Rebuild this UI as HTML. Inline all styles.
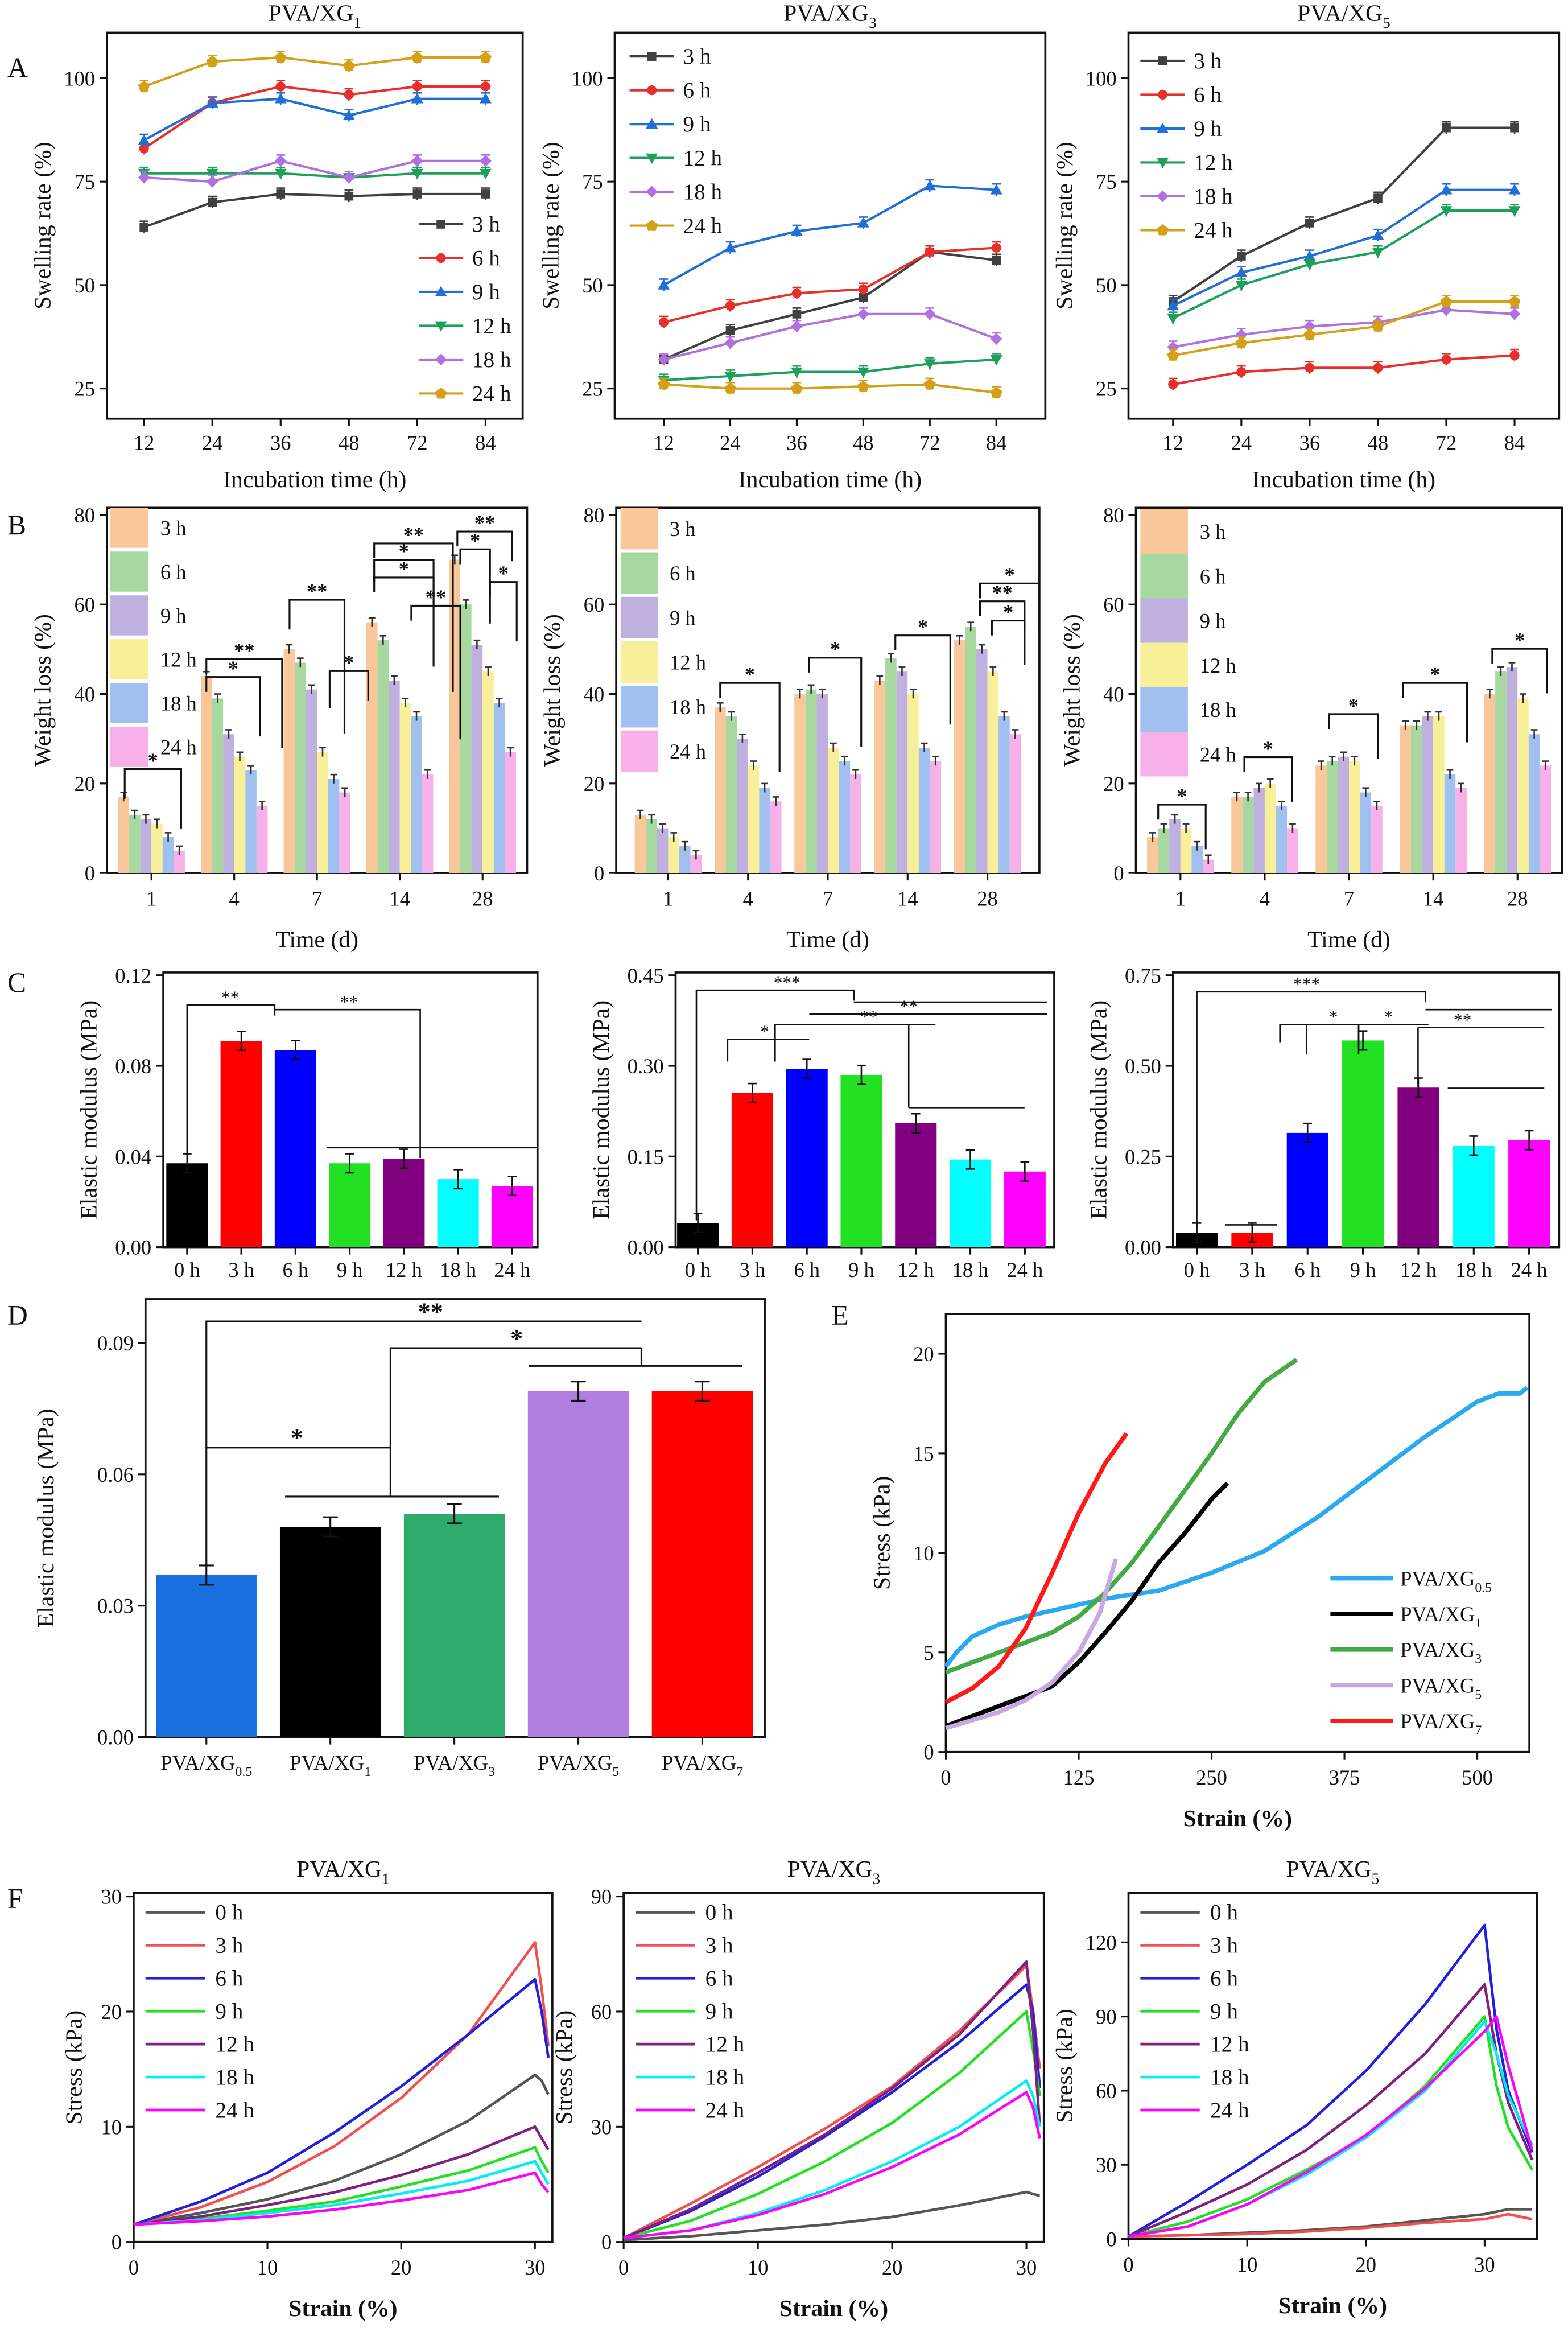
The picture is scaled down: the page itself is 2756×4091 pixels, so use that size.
<!DOCTYPE html>
<html><head><meta charset="utf-8">
<style>
html,body{margin:0;padding:0;background:#fff;}
svg{display:block;font-family:"Liberation Serif","DejaVu Serif",serif;}
</style></head>
<body>
<svg id="fig" xmlns="http://www.w3.org/2000/svg" width="2756" height="4091" viewBox="0 0 1056 1568" preserveAspectRatio="none"></svg>
<script>
// ---------- Panel A data (swelling rate) ----------
const aCats = ['12','24','36','48','72','84'];
const aSeriesNames = ['3 h','6 h','9 h','12 h','18 h','24 h'];
const a1_3h=[64,70,72,71.5,72,72], a1_6h=[83,94,98,96,98,98], a1_9h=[85,94,95,91,95,95], a1_12h=[77,77,77,76,77,77], a1_18h=[76,75,80,76,80,80], a1_24h=[98,104,105,103,105,105];
const a2_3h=[32,39,43,47,58,56], a2_6h=[41,45,48,49,58,59], a2_9h=[50,59,63,65,74,73], a2_12h=[27,28,29,29,31,32], a2_18h=[32,36,40,43,43,37], a2_24h=[26,25,25,25.5,26,24];
const a3_3h=[46,57,65,71,88,88], a3_6h=[26,29,30,30,32,33], a3_9h=[45,53,57,62,73,73], a3_12h=[42,50,55,58,68,68], a3_18h=[35,38,40,41,44,43], a3_24h=[33,36,38,40,46,46];
const aYTicks=[25,50,75,100];
// ---------- Panel B data (weight loss) ----------
const bCats=['1','4','7','14','28'];
const b1_3h=[17,44,50,56,70], b1_6h=[13,39,47,52,60], b1_9h=[12,31,41,43,51], b1_12h=[11,26,27,38,45], b1_18h=[8,23,21,35,38], b1_24h=[5,15,18,22,27];
const b2_3h=[13,37,40,43,52], b2_6h=[12,35,41,48,55], b2_9h=[10,30,40,45,50], b2_12h=[8,24,28,40,45], b2_18h=[6,19,25,28,35], b2_24h=[4,16,22,25,31];
const b3_3h=[8,17,24,33,40], b3_6h=[10,17,25,33,45], b3_9h=[12,19,26,35,46], b3_12h=[10,20,25,35,39], b3_18h=[6,15,18,22,31], b3_24h=[3,10,15,19,24];
const bYTicks=[0,20,40,60,80];
// ---------- Panel C data (elastic modulus) ----------
const cCats=['0 h','3 h','6 h','9 h','12 h','18 h','24 h'];
const c1Vals=[0.037,0.091,0.087,0.037,0.039,0.030,0.027];
const c2Vals=[0.040,0.255,0.295,0.285,0.205,0.145,0.125];
const c3Vals=[0.040,0.040,0.315,0.570,0.440,0.280,0.295];
const c1Ticks=[0,0.04,0.08,0.12], c2Ticks=[0,0.15,0.30,0.45], c3Ticks=[0,0.25,0.50,0.75];
// ---------- Panel D ----------
const dCats=[['PVA/XG','0.5'],['PVA/XG','1'],['PVA/XG','3'],['PVA/XG','5'],['PVA/XG','7']];
const dVals=[0.037,0.048,0.051,0.079,0.079];
const dTicks=[0,0.03,0.06,0.09];
// ---------- Panel E (strain, stress) ----------
const eXTicks=[0,125,250,375,500], eYTicks=[0,5,10,15,20];
const eXG05=[[0,4.3],[10,5],[25,5.8],[50,6.4],[75,6.8],[100,7.1],[150,7.7],[200,8.1],[250,9],[300,10.1],[350,11.8],[400,13.8],[450,15.8],[500,17.6],[520,18],[540,18],[547,18.3]];
const eXG1=[[0,1.3],[25,1.8],[50,2.3],[75,2.8],[100,3.3],[125,4.5],[150,6],[175,7.6],[200,9.5],[225,11],[250,12.7],[265,13.5]];
const eXG3=[[0,4],[50,5],[100,6],[125,6.8],[150,8],[175,9.5],[200,11.3],[250,15],[275,17],[300,18.6],[330,19.7]];
const eXG5=[[0,1.2],[50,2],[75,2.6],[100,3.5],[125,5],[145,7],[160,9.7]];
const eXG7=[[0,2.5],[25,3.2],[50,4.3],[75,6.2],[100,9],[125,12],[150,14.5],[170,16]];
// ---------- Panel F ----------
const fNames=['0 h','3 h','6 h','9 h','12 h','18 h','24 h'];
const f1Strain=[0,5,10,15,20,25,30,30.5,31];
const f1_0h=[1.5,2.5,3.7,5.3,7.6,10.5,14.5,14,12.8], f1_3h=[1.5,3,5.2,8.3,12.5,18,26,22,17], f1_6h=[1.5,3.5,6,9.5,13.5,18,22.8,20,16], f1_9h=[1.5,2,2.7,3.5,4.8,6.2,8.2,7,6], f1_12h=[1.5,2.2,3.2,4.3,5.8,7.6,10,9,8], f1_18h=[1.5,1.9,2.5,3.2,4.2,5.3,7,6,5], f1_24h=[1.5,1.8,2.2,2.8,3.6,4.5,6,5,4.3];
const f2Strain=[0,5,10,15,20,25,30,30.5,31];
const f2_0h=[0.5,1.5,3,4.5,6.5,9.5,13,12.5,12], f2_3h=[1,10,19.5,29.5,40.5,55,72,60,45], f2_6h=[1,8,17,27.5,39,52,67,60,40], f2_9h=[1,5.5,12.5,21,31,44,60,50,38], f2_12h=[1,8.5,18,28,40,54,73,55,30], f2_18h=[1,3,7.5,13.5,21,30,42,38,30], f2_24h=[1,3,7,12.5,19.5,28,39,35,27];
const f3Strain=[0,5,10,15,20,25,30,31,32,34];
const f3_0h=[1,1.5,2.5,3.5,5,7.5,10,11,12,12], f3_3h=[1,1.5,2,3,4.5,6.5,8,9,10,8], f3_6h=[1,15,30,46,68,95,127,85,60,35], f3_9h=[1,7,16,28,41,62,90,62,45,28], f3_12h=[1,11,22,36,54,75,103,75,55,32], f3_18h=[1,5,14,26,41,60,88,75,58,38], f3_24h=[1,5,14,27,42,61,84,90,70,36];

const svg=document.getElementById('fig');
const NS='http://www.w3.org/2000/svg';
function el(tag,attrs,parent){const e=document.createElementNS(NS,tag);for(const k in attrs)e.setAttribute(k,attrs[k]);(parent||svg).appendChild(e);return e;}
function txt(x,y,s,size,anchor,parent,extra){const t=el('text',Object.assign({x:x,y:y,'font-size':size,'text-anchor':anchor||'middle',fill:'#111'},extra||{}),parent);t.textContent=s;return t;}
function subTxt(x,y,base,sub,size,anchor,parent){const t=el('text',{x:x,y:y,'font-size':size,'text-anchor':anchor||'middle',fill:'#111'},parent);const a=el('tspan',{},t);a.textContent=base;const b=el('tspan',{'font-size':size*0.65,dy:size*0.3},t);b.textContent=sub;return t;}

function axes(g,box,yMin,yMax,yTicks,yFmt,yTitle,yTitleX){
  const r=el('rect',{x:box.x,y:box.y,width:box.w,height:box.h,fill:'none',stroke:'#111','stroke-width':1.4},g);
  
  
  const Y=v=>box.y+box.h-(v-yMin)/(yMax-yMin)*box.h;
  yTicks.forEach(v=>{const y=Y(v);el('line',{x1:box.x-5,x2:box.x,y1:y,y2:y,stroke:'#111','stroke-width':1.2},g);
    const t=txt(box.x-8,y+5,yFmt(v),14,'end',g);});
  const tt=el('text',{x:0,y:0,'font-size':16,'text-anchor':'middle',fill:'#111',transform:`translate(${yTitleX},${box.y+box.h/2}) rotate(-90)`},g);
  tt.textContent=yTitle;
  
  
  return Y;
}

// ---------- markers ----------
function marker(g,type,x,y,c){
  let m;
  if(type==0) m=el('rect',{x:x-3,y:y-3,width:6,height:6,fill:c},g);
  else if(type==1) m=el('circle',{cx:x,cy:y,r:3.3,fill:c},g);
  else if(type==2) m=el('polygon',{points:`${x},${y-4} ${x-4},${y+3} ${x+4},${y+3}`,fill:c},g);
  else if(type==3) m=el('polygon',{points:`${x},${y+4} ${x-4},${y-3} ${x+4},${y-3}`,fill:c},g);
  else if(type==4) m=el('polygon',{points:`${x},${y-4} ${x+4},${y} ${x},${y+4} ${x-4},${y}`,fill:c},g);
  else m=el('polygon',{points:`${x},${y-4} ${x+4},${y-1} ${x+2.5},${y+3.5} ${x-2.5},${y+3.5} ${x-4},${y-1}`,fill:c},g);
  return m;
}
const aColors=['#404040','#e8302a','#1f6fd6','#1ea05a','#b070e0','#d4a017'];

function panelA(idx,box,series,legendPos,title){
  const g=el('g',{});
  
  
  const Y=axes(g,box,17.7,111,aYTicks,v=>String(v),'Swelling rate (%)',box.x-38);
  const pad=box.pad, step=(box.w-2*pad)/(aCats.length-1);
  const X=i=>box.x+pad+i*step;
  aCats.forEach((c,i)=>{el('line',{x1:X(i),x2:X(i),y1:box.y+box.h,y2:box.y+box.h+5,stroke:'#111','stroke-width':1.2},g);
    const t=txt(X(i),box.y+box.h+21,c,14,'middle',g);});
  const xt=txt(box.x+box.w/2,box.y+box.h+46,'Incubation time (h)',16,'middle',g);
  
  const tt=subTxt(box.x+box.w/2,box.y-8,'PVA/XG',title,16,'middle',g);
  
  series.forEach((vals,s)=>{
    const c=aColors[s];
    const pts=vals.map((v,i)=>X(i)+','+Y(v)).join(' ');
    const pl=el('polyline',{points:pts,fill:'none',stroke:c,'stroke-width':1.6},g);
    
    
    vals.forEach((v,i)=>{
      el('line',{x1:X(i),x2:X(i),y1:Y(v)-4,y2:Y(v)+4,stroke:c,'stroke-width':1},g);
      el('line',{x1:X(i)-3,x2:X(i)+3,y1:Y(v)-4,y2:Y(v)-4,stroke:c,'stroke-width':1},g);
      const m=marker(g,s,X(i),Y(v),c);
      
      
    });
    const ly=legendPos.y+s*22.8;
    const lg=el('g',{},g);
    
    
    el('line',{x1:legendPos.x,x2:legendPos.x+30,y1:ly,y2:ly,stroke:c,'stroke-width':1.6},lg);
    marker(lg,s,legendPos.x+15,ly,c);
    txt(legendPos.x+36,ly+5,aSeriesNames[s],15,'start',lg);
  });
}
panelA(1,{x:72,y:22,w:280,h:260,pad:25},[a1_3h,a1_6h,a1_9h,a1_12h,a1_18h,a1_24h],{x:282,y:151},'1');
panelA(2,{x:414,y:22,w:290,h:260,pad:33},[a2_3h,a2_6h,a2_9h,a2_12h,a2_18h,a2_24h],{x:424,y:38},'3');
panelA(3,{x:760,y:22,w:290,h:260,pad:30},[a3_3h,a3_6h,a3_9h,a3_12h,a3_18h,a3_24h],{x:768,y:41},'5');

// ---------- Panel B ----------
const bColors=['#f8c89a','#a6d8a0','#c0b0e0','#f8f098','#a0c0f0','#f8b0e8'];
function panelB(idx,box,series,legX,legY0,legStep,legW,legH,brackets){
  const g=el('g',{});
  
  
  const Y=axes(g,box,0,81.6,bYTicks,v=>String(v),'Weight loss (%)',box.x-38);
  const step=(box.w-2*box.pad)/(bCats.length-1);
  const X=i=>box.x+box.pad+i*step;
  const bw=7.5;
  bCats.forEach((c,i)=>{el('line',{x1:X(i),x2:X(i),y1:box.y+box.h,y2:box.y+box.h+5,stroke:'#111','stroke-width':1.2},g);
    const t=txt(X(i),box.y+box.h+22,c,14,'middle',g);});
  const xt=txt(box.x+box.w/2,box.y+box.h+50,'Time (d)',16,'middle',g);
  
  series.forEach((vals,s)=>{
    vals.forEach((v,i)=>{
      const x=X(i)-3*bw+s*bw;
      const r=el('rect',{x:x,y:Y(v),width:bw,height:Y(0)-Y(v),fill:bColors[s]},g);
      
      
      el('line',{x1:x+bw/2,x2:x+bw/2,y1:Y(v)-3,y2:Y(v)+3,stroke:'#333','stroke-width':1},g);
      el('line',{x1:x+1.5,x2:x+bw-1.5,y1:Y(v)-3,y2:Y(v)-3,stroke:'#333','stroke-width':1},g);
    });
    const lg=el('g',{},g);
    
    
    el('rect',{x:legX,y:legY0+s*legStep,width:legW,height:legH,fill:bColors[s]},lg);
    txt(legX+legW+8,legY0+s*legStep+legH/2+5,aSeriesNames[s],14,'start',lg);
  });
  brackets.forEach(b=>{
    const p=el('polyline',{points:`${b[0]},${b[2]+b[3]} ${b[0]},${b[2]} ${b[1]},${b[2]} ${b[1]},${b[2]+b[4]}`,fill:'none',stroke:'#111','stroke-width':1.2},g);
    
    const t=txt((b[0]+b[1])/2,b[2]-1,b[5],14,'middle',g,{'font-weight':'bold'});
    
  });
}
panelB(1,{x:72,y:342,w:283,h:246,pad:30},[b1_3h,b1_6h,b1_9h,b1_12h,b1_18h,b1_24h],74,342,29.5,26,27,
 [[84,122,518,20,40,'*'],[139,175,456,10,40,'*'],[139,190,444,10,60,'**'],[195,232,404,20,90,'**'],[222,248,452,25,20,'*'],[252,292,377,15,30,'*'],[252,292,389,10,60,'*'],[252,305,366,10,100,'**'],[277,310,408,10,90,'**'],[308,345,358,10,20,'**'],[310,330,370,10,50,'*'],[330,348,392,10,40,'*']]);
panelB(2,{x:415,y:342,w:285,h:246,pad:35},[b2_3h,b2_6h,b2_9h,b2_12h,b2_18h,b2_24h],418,342,30,25,28,
 [[485,525,460,10,60,'*'],[545,580,443,10,60,'*'],[603,640,428,10,60,'*'],[660,700,393,10,30,'*'],[660,690,405,10,20,'**'],[668,690,418,10,30,'*']]);
panelB(3,{x:765,y:342,w:287,h:246,pad:30},[b3_3h,b3_6h,b3_9h,b3_12h,b3_18h,b3_24h],768,343,30,32,30,
 [[780,812,542,10,30,'*'],[838,870,510,10,30,'*'],[895,928,481,10,30,'*'],[945,988,460,10,40,'*'],[1005,1042,437,10,30,'*']]);

// ---------- Panel C ----------
const cColors=['#000000','#ff0000','#0000ff','#22e022','#800080','#00ffff','#ff00ff'];
function panelC(idx,box,vals,ticks,fmt,brackets){
  const g=el('g',{});
  
  
  const yMax=ticks[ticks.length-1]*1.0;
  const Y=axes(g,box,0,yMax*1.01,ticks,fmt,'Elastic modulus (MPa)',box.x-45);
  const X=i=>box.x+box.pad+i*box.step;
  vals.forEach((v,i)=>{
    const r=el('rect',{x:X(i)-14,y:Y(v),width:28,height:Y(0)-Y(v),fill:cColors[i]},g);
    
    
    const e=yMax*0.035;
    el('line',{x1:X(i),x2:X(i),y1:Y(v+e),y2:Y(v-e),stroke:'#111','stroke-width':1},g);
    el('line',{x1:X(i)-3,x2:X(i)+3,y1:Y(v+e),y2:Y(v+e),stroke:'#111','stroke-width':1},g);
    el('line',{x1:X(i)-3,x2:X(i)+3,y1:Y(v-e),y2:Y(v-e),stroke:'#111','stroke-width':1},g);
    el('line',{x1:X(i),x2:X(i),y1:box.y+box.h,y2:box.y+box.h+5,stroke:'#111','stroke-width':1.2},g);
    const t=txt(X(i),box.y+box.h+20,cCats[i],14,'middle',g);
  });
  brackets.forEach(b=>{
    const p=el('polyline',{points:`${b[0]},${b[2]+b[3]} ${b[0]},${b[2]} ${b[1]},${b[2]} ${b[1]},${b[2]+b[4]}`,fill:'none',stroke:'#111','stroke-width':1},g);
    
    const t=txt(b[6]||(b[0]+b[1])/2,b[2]-1,b[5],12,'middle',g);
    
  });
}
panelC(1,{x:110,y:655,w:252,h:185,pad:16,step:36.5},c1Vals,c1Ticks,v=>v.toFixed(2),
 [[126,185,677,100,7,'**',155],[185,283,680,0,100,'**',235],[220,362,773,0,0,'']]);
panelC(2,{x:455,y:655,w:255,h:185,pad:15,step:36.7},c2Vals,c2Ticks,v=>v.toFixed(2),
 [[469,575,667,155,7,'***',530],[575,705,675,0,0,''],[490,545,700,15,0,'*',515],[522,630,690,25,0,'**',585],[545,705,683,0,0,'**',612],[612,690,746,0,0,''],[612,612,690,56,56,'']]);
panelC(3,{x:790,y:655,w:260,h:185,pad:16,step:37.3},c3Vals,c3Ticks,v=>v.toFixed(2),
 [[806,960,668,160,7,'***',880],[960,1045,680,0,0,''],[862,962,690,12,0,'*',898],[880,915,690,20,20,''],[915,955,690,15,0,'*',935],[955,1040,692,0,0,'**',985],[955,955,692,40,40,''],[975,1040,733,0,0,''],[825,860,825,0,0,'']]);

// ---------- Panel D ----------
(function(){
  const g=el('g',{});
  
  
  const box={x:98,y:875,w:417,h:295};
  const Y=axes(g,box,0,0.1,dTicks,v=>v.toFixed(2),'Elastic modulus (MPa)',box.x-62);
  const cols=['#1a6fdf','#000000','#2eaa6a','#b07ee0','#ff0000'];
  const X=i=>box.x+41+i*83.5;
  dVals.forEach((v,i)=>{
    const r=el('rect',{x:X(i)-34,y:Y(v),width:68,height:Y(0)-Y(v),fill:cols[i]},g);
    
    
    const e=0.0022;
    el('line',{x1:X(i),x2:X(i),y1:Y(v+e),y2:Y(v-e),stroke:'#111','stroke-width':1.2},g);
    el('line',{x1:X(i)-5,x2:X(i)+5,y1:Y(v+e),y2:Y(v+e),stroke:'#111','stroke-width':1.2},g);
    el('line',{x1:X(i)-5,x2:X(i)+5,y1:Y(v-e),y2:Y(v-e),stroke:'#111','stroke-width':1.2},g);
    el('line',{x1:X(i),x2:X(i),y1:box.y+box.h,y2:box.y+box.h+5,stroke:'#111','stroke-width':1.2},g);
    const t=subTxt(X(i),box.y+box.h+22,dCats[i][0],dCats[i][1],14,'middle',g);
    
  });
  const br=[[139,263,975,80,0,'*',200],[192,336,1008,0,0,''],[263,263,975,33,33,''],[263,432,908,67,0,'*',348],[356,500,920,0,0,''],[432,432,908,12,12,''],[139,432,890,85,0,'**',290]];
  br.forEach(b=>{
    const p=el('polyline',{points:`${b[0]},${b[2]+b[3]} ${b[0]},${b[2]} ${b[1]},${b[2]} ${b[1]},${b[2]+b[4]}`,fill:'none',stroke:'#111','stroke-width':1.2},g);
    
    if(b[5]){const t=txt(b[6],b[2]-1,b[5],17,'middle',g,{'font-weight':'bold'});}
  });
})();

// ---------- Panel E ----------
(function(){
  const g=el('g',{});
  
  
  const box={x:637,y:885,w:393,h:295};
  const Y=axes(g,box,0,22,eYTicks,v=>String(v),'Stress (kPa)',box.x-38);
  const xMax=549;
  const X=v=>box.x+v/xMax*box.w;
  eXTicks.forEach(v=>{el('line',{x1:X(v),x2:X(v),y1:box.y+box.h,y2:box.y+box.h+5,stroke:'#111','stroke-width':1.2},g);
    const t=txt(X(v),box.y+box.h+22,String(v),14,'middle',g);});
  const xt=txt(box.x+box.w/2,box.y+box.h+50,'Strain (%)',16,'middle',g,{'font-weight':'bold'});
  
  const series=[eXG05,eXG1,eXG3,eXG5,eXG7], subs=['0.5','1','3','5','7'];
  const cols=['#2aa8f0','#000000','#44aa44','#c8a8e0','#ff1a1a'];
  series.forEach((s,k)=>{
    const p=el('polyline',{points:s.map(d=>X(d[0])+','+Y(d[1])).join(' '),fill:'none',stroke:cols[k],'stroke-width':3,'stroke-linejoin':'round'},g);
    
    
    const ly=1063+k*24;
    const lg=el('g',{},g);
    
    
    el('line',{x1:896,x2:938,y1:ly,y2:ly,stroke:cols[k],'stroke-width':3},lg);
    subTxt(943,ly+5,'PVA/XG',subs[k],14,'start',lg);
  });
})();

// ---------- Panel F ----------
const fColors=['#555555','#f05050','#2020e0','#22e022','#802080','#00eeee','#ff00ff'];
function panelF(idx,box,xMax,yMax,xTicks,yTicks,strain,series,legX,title,yTitleX){
  const g=el('g',{});
  
  
  const Y=axes(g,box,0,yMax,yTicks,v=>String(v),'Stress (kPa)',yTitleX);
  const X=v=>box.x+v/xMax*box.w;
  xTicks.forEach(v=>{el('line',{x1:X(v),x2:X(v),y1:box.y+box.h,y2:box.y+box.h+5,stroke:'#111','stroke-width':1.2},g);
    const t=txt(X(v),box.y+box.h+22,String(v),14,'middle',g);});
  const xt=txt(box.x+box.w/2,box.y+box.h+50,'Strain (%)',16,'middle',g,{'font-weight':'bold'});
  
  const tt=subTxt(box.x+box.w/2,box.y-11,'PVA/XG',title,16,'middle',g);
  
  series.forEach((vals,k)=>{
    const p=el('polyline',{points:vals.map((v,i)=>X(strain[i])+','+Y(v)).join(' '),fill:'none',stroke:fColors[k],'stroke-width':1.8,'stroke-linejoin':'round'},g);
    
    
    const ly=1288+k*22.2;
    const lg=el('g',{},g);
    
    
    el('line',{x1:legX,x2:legX+40,y1:ly,y2:ly,stroke:fColors[k],'stroke-width':1.8},lg);
    txt(legX+47,ly+5,fNames[k],15,'start',lg);
  });
}
panelF(1,{x:90,y:1275,w:282,h:235},31.3,30.3,[0,10,20,30],[0,10,20,30],f1Strain,[f1_0h,f1_3h,f1_6h,f1_9h,f1_12h,f1_18h,f1_24h],98,'1',55);
panelF(2,{x:420,y:1275,w:283,h:235},31.3,90.9,[0,10,20,30],[0,30,60,90],f2Strain,[f2_0h,f2_3h,f2_6h,f2_9h,f2_12h,f2_18h,f2_24h],428,'3',385);
panelF(3,{x:760,y:1275,w:275,h:233},34.4,140,[0,10,20,30],[0,30,60,90,120],f3Strain,[f3_0h,f3_3h,f3_6h,f3_9h,f3_12h,f3_18h,f3_24h],768,'5',722);

// ---------- panel letters ----------
[['A',5,52],['B',5,360],['C',5,668],['D',5,892],['E',560,892],['F',5,1285]].forEach(p=>{
  const t=txt(p[1],p[2],p[0],19,'start');
  
  
});
</script>
</body></html>
